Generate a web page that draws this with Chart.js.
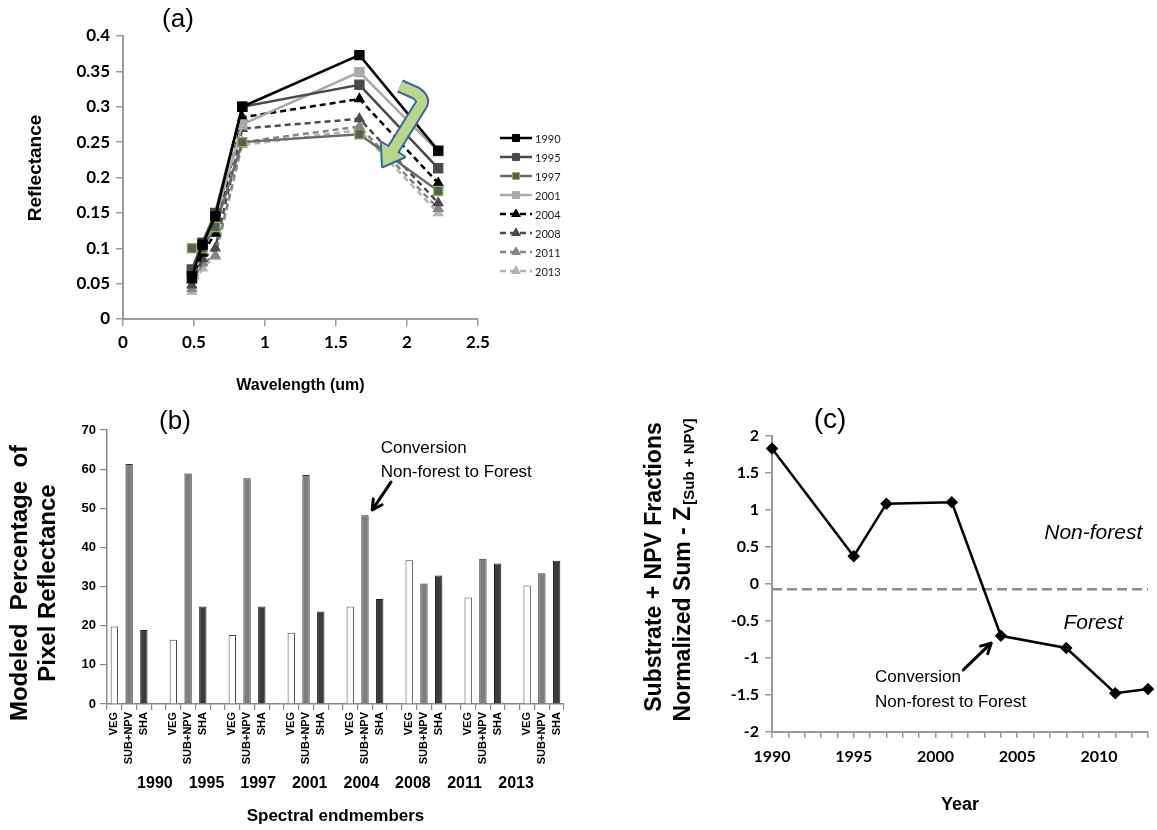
<!DOCTYPE html>
<html><head><meta charset="utf-8">
<script src="https://cdn.jsdelivr.net/npm/chart.js@4.4.1/dist/chart.umd.min.js"></script>
<style>
html,body{margin:0;padding:0;background:#fff;}
body{width:1157px;height:830px;position:relative;overflow:hidden;}
canvas{position:absolute;}
</style></head><body>
<canvas id="ca" width="600" height="400" style="left:0;top:0"></canvas>
<canvas id="cb" width="600" height="430" style="left:0;top:400px"></canvas>
<canvas id="cc" width="557" height="430" style="left:600px;top:400px"></canvas>
<script>
// ---------- DATA ----------
// Panel (a): endmember reflectance spectra
const wavelengths = [0.485, 0.56, 0.65, 0.84, 1.665, 2.22];
const spectraYears = ['1990','1995','1997','2001','2004','2008','2011','2013'];
const refl1990 = [0.060, 0.105, 0.145, 0.300, 0.373, 0.238];
const refl1995 = [0.070, 0.108, 0.150, 0.300, 0.331, 0.213];
const refl1997 = [0.100, 0.100, 0.130, 0.250, 0.261, 0.181];
const refl2001 = [0.065, 0.105, 0.140, 0.275, 0.349, 0.237];
const refl2004 = [0.055, 0.093, 0.121, 0.285, 0.311, 0.192];
const refl2008 = [0.048, 0.085, 0.100, 0.269, 0.283, 0.164];
const refl2011 = [0.043, 0.079, 0.090, 0.250, 0.272, 0.156];
const refl2013 = [0.039, 0.072, 0.088, 0.246, 0.267, 0.150];
const reflTicksX = [0, 0.5, 1, 1.5, 2, 2.5];

// Panel (b): modeled fractions (%)
const fracYears = ['1990','1995','1997','2001','2004','2008','2011','2013'];
const endmembers = ['VEG','SUB+NPV','SHA'];
const vegPct = [19.8, 16.4, 17.6, 18.2, 24.9, 36.7, 27.2, 30.3];
const subNpvPct = [61.3, 58.9, 57.7, 58.5, 48.2, 30.8, 37.1, 33.4];
const shaPct = [18.9, 24.9, 24.9, 23.6, 26.8, 32.8, 35.9, 36.6];

// Panel (c): normalized sum Z[Sub+NPV]
const zYears = [1990, 1995, 1997, 2001, 2004, 2008, 2011, 2013];
const zValues = [1.83, 0.375, 1.085, 1.105, -0.70, -0.865, -1.475, -1.42];
const zThreshold = -0.07;

// ---------- helpers ----------
const ARIAL = '"Liberation Sans", Arial, sans-serif';
const CALI = 'Lato, "Liberation Sans", sans-serif';
const fmt = (v) => String(+Number(v).toFixed(2));
function txt(ctx, s, x, y, font, o) {
  o = o || {};
  ctx.save();
  ctx.font = font; ctx.fillStyle = o.color || '#000';
  ctx.textAlign = o.align || 'center'; ctx.textBaseline = o.baseline || 'middle';
  ctx.translate(x, y); if (o.rot) ctx.rotate(o.rot);
  ctx.fillText(s, 0, 0); ctx.restore();
}
function arrow(ctx, x1, y1, x2, y2, lw, head) {
  const a = Math.atan2(y2 - y1, x2 - x1);
  ctx.save(); ctx.strokeStyle = '#000'; ctx.lineWidth = lw; ctx.lineCap = 'round'; ctx.lineJoin = 'round';
  ctx.beginPath(); ctx.moveTo(x1, y1); ctx.lineTo(x2, y2); ctx.stroke();
  ctx.beginPath();
  ctx.moveTo(x2 - head * Math.cos(a - 0.5), y2 - head * Math.sin(a - 0.5));
  ctx.lineTo(x2, y2);
  ctx.lineTo(x2 - head * Math.cos(a + 0.5), y2 - head * Math.sin(a + 0.5));
  ctx.stroke(); ctx.restore();
}
const axisCommon = (tickLen) => ({
  grid: { drawOnChartArea: false, drawTicks: true, tickLength: tickLen, color: '#9a9a9a', lineWidth: 1.5 },
  border: { color: '#9a9a9a', width: 2 }
});

// ---------- PANEL A ----------
const reflSeries = [refl1990, refl1995, refl1997, refl2001, refl2004, refl2008, refl2011, refl2013];
const styleA = [
  { c: '#000000', dash: [], ps: 'rect', fill: '#000000', bc: '#000000' },
  { c: '#4a4a4a', dash: [], ps: 'rect', fill: '#4a4a4a', bc: '#4a4a4a' },
  { c: '#6a6a6a', dash: [], ps: 'rect', fill: '#5c5c5c', bc: '#86b84a' },
  { c: '#a9a9a9', dash: [], ps: 'rect', fill: '#a9a9a9', bc: '#a9a9a9' },
  { c: '#000000', dash: [6, 4], ps: 'triangle', fill: '#000000', bc: '#000000' },
  { c: '#4a4a4a', dash: [6, 4], ps: 'triangle', fill: '#4a4a4a', bc: '#4a4a4a' },
  { c: '#858585', dash: [6, 4], ps: 'triangle', fill: '#858585', bc: '#858585' },
  { c: '#b3b3b3', dash: [6, 4], ps: 'triangle', fill: '#b3b3b3', bc: '#b3b3b3' }
];
const dsA = spectraYears.map((yr, i) => ({
  label: yr,
  data: wavelengths.map((w, j) => ({ x: w, y: reflSeries[i][j] })),
  borderColor: styleA[i].c, borderWidth: 2.5, borderDash: styleA[i].dash,
  pointStyle: styleA[i].ps, pointRadius: styleA[i].ps === 'rect' ? 6.5 : 5.5,
  pointBackgroundColor: styleA[i].fill, pointBorderColor: styleA[i].bc, pointBorderWidth: 1.2,
  tension: 0, fill: false
}));

const pluginA = {
  id: 'pa',
  afterDraw(chart) {
    const ctx = chart.ctx;
    const xs = chart.scales.x, ys = chart.scales.y;
    txt(ctx, '(a)', 178, 20, '26px ' + ARIAL);
    txt(ctx, 'Reflectance', 36, 168, 'bold 19px ' + ARIAL, { rot: -Math.PI / 2 });
    // legend
    chart.data.datasets.forEach((ds, i) => {
      const y = 138 + i * 19;
      ctx.save();
      ctx.strokeStyle = ds.borderColor; ctx.lineWidth = 2.5; ctx.setLineDash(ds.borderDash);
      ctx.beginPath(); ctx.moveTo(500, y); ctx.lineTo(532, y); ctx.stroke();
      ctx.setLineDash([]);
      ctx.fillStyle = ds.pointBackgroundColor; ctx.strokeStyle = ds.pointBorderColor; ctx.lineWidth = 1;
      Chart.helpers.drawPoint(ctx, { pointStyle: ds.pointStyle, radius: 5, rotation: 0, borderWidth: 1 }, 516, y);
      ctx.restore();
      txt(ctx, ds.label, 535, y + 1, '11px ' + CALI, { align: 'left', color: '#222' });
    });
    // green hook arrow (anchored in data space)
    const P = (x, y) => [xs.getPixelForValue(x), ys.getPixelForValue(y)];
    const p0 = P(1.951, 0.3293), p1 = P(2.063, 0.3194), pc = P(2.100, 0.3030), p3 = P(1.901, 0.2389);
    const dx = p3[0] - pc[0], dy = p3[1] - pc[1], L = Math.hypot(dx, dy);
    const ux = dx / L, uy = dy / L, nx = -uy, ny = ux;
    const tip = [p3[0] + 19 * ux, p3[1] + 19 * uy];
    const hw = 13;
    const headPath = () => {
      ctx.beginPath(); ctx.moveTo(tip[0], tip[1]);
      ctx.lineTo(p3[0] + hw * nx, p3[1] + hw * ny);
      ctx.lineTo(p3[0] - hw * nx, p3[1] - hw * ny); ctx.closePath();
    };
    const shaftPath = () => {
      ctx.beginPath(); ctx.moveTo(p0[0], p0[1]); ctx.lineTo(p1[0], p1[1]);
      ctx.quadraticCurveTo(pc[0] + 3, pc[1] - 6, pc[0], pc[1]);
      ctx.lineTo(p3[0] + 1 * ux, p3[1] + 1 * uy);
    };
    ctx.save(); ctx.lineJoin = 'round';
    ctx.strokeStyle = '#3d64a0'; ctx.fillStyle = '#3d64a0'; ctx.lineWidth = 4;
    headPath(); ctx.fill(); ctx.stroke();
    ctx.lineWidth = 14; ctx.lineCap = 'butt'; shaftPath(); ctx.stroke();
    ctx.strokeStyle = '#b8d78b'; ctx.fillStyle = '#b8d78b'; ctx.lineWidth = 10; shaftPath(); ctx.stroke();
    headPath(); ctx.fill();
    ctx.restore();
  }
};

new Chart(document.getElementById('ca'), {
  type: 'line',
  data: { datasets: dsA },
  options: {
    responsive: false, animation: false, devicePixelRatio: 1,
    layout: { padding: { left: 0, right: 122, top: 36, bottom: 0 } },
    plugins: { legend: { display: false }, tooltip: { enabled: false } },
    scales: {
      x: Object.assign({
        type: 'linear', min: 0, max: 2.5,
        afterBuildTicks: (s) => { s.ticks = reflTicksX.map(v => ({ value: v })); },
        ticks: { callback: fmt, font: { family: CALI, size: 17, weight: 'bold' }, color: '#000', padding: 6 },
        title: { display: true, text: 'Wavelength (um)', font: { family: ARIAL, size: 16, weight: 'bold' }, color: '#000', padding: { top: 0, bottom: 5 } },
        afterFit: (s) => { s.height = 81; }
      }, axisCommon(7)),
      y: Object.assign({
        min: 0, max: 0.4,
        ticks: { stepSize: 0.05, callback: fmt, font: { family: CALI, size: 17, weight: 'bold' }, color: '#000', padding: 6 },
        afterFit: (s) => { s.width = 123; }
      }, axisCommon(7))
    }
  },
  plugins: [pluginA]
});

// ---------- PANEL B ----------
const nSlots = fracYears.length * 4 - 1;
const slotLabels = [];
for (let i = 0; i < nSlots; i++) slotLabels.push(i % 4 === 3 ? '' : endmembers[i % 4]);
const slotData = (arr, k) => { const d = new Array(nSlots).fill(null); arr.forEach((v, i) => { d[i * 4 + k] = v; }); return d; };
const barCommon = { grouped: false, barPercentage: 0.5, categoryPercentage: 1.0, borderWidth: 1, borderSkipped: 'bottom' };

const pluginB = {
  id: 'pb',
  afterDraw(chart) {
    const ctx = chart.ctx;
    const xs = chart.scales.x2, ys = chart.scales.y;
    txt(ctx, '(b)', 175, 22, '26px ' + ARIAL);
    txt(ctx, 'Modeled  Percentage  of', 20, 183, 'bold 24px ' + ARIAL, { rot: -Math.PI / 2 });
    txt(ctx, 'Pixel Reflectance', 48, 183, 'bold 24px ' + ARIAL, { rot: -Math.PI / 2 });
    const fx = (v) => xs.getPixelForValue(v), fy = (v) => ys.getPixelForValue(v);
    txt(ctx, 'Conversion', fx(18.5), fy(65.4), '17px ' + ARIAL, { align: 'left' });
    txt(ctx, 'Non-forest to Forest', fx(18.5), fy(59.3), '17px ' + ARIAL, { align: 'left' });
    arrow(ctx, fx(19.3), fy(56.7), fx(17.85), fy(49.6), 3, 11);
  }
};

new Chart(document.getElementById('cb'), {
  type: 'bar',
  data: {
    labels: slotLabels,
    datasets: [
      Object.assign({ label: 'VEG', data: slotData(vegPct, 0), backgroundColor: '#ffffff', borderColor: '#444' }, barCommon),
      Object.assign({ label: 'SUB+NPV', data: slotData(subNpvPct, 1), backgroundColor: '#7d7d7d', borderColor: '#333' }, barCommon),
      Object.assign({ label: 'SHA', data: slotData(shaPct, 2), backgroundColor: '#3c3c3c', borderColor: '#222' }, barCommon)
    ]
  },
  options: {
    responsive: false, animation: false, devicePixelRatio: 1,
    layout: { padding: { left: 0, right: 36, top: 30, bottom: 0 } },
    plugins: { legend: { display: false }, tooltip: { enabled: false } },
    scales: {
      x: {
        type: 'category', offset: true, weight: 0,
        grid: { drawOnChartArea: false, drawTicks: true, tickLength: 6, color: '#8a8a8a', lineWidth: 1.2, offset: true },
        border: { color: '#8a8a8a', width: 1.5 },
        ticks: { autoSkip: false, minRotation: 90, maxRotation: 90, font: { family: ARIAL, size: 11, weight: 'bold' }, color: '#000', padding: 2 },
        afterFit: (s) => { s.height = 66; }
      },
      x2: {
        type: 'linear', position: 'bottom', weight: 1, min: -0.5, max: nSlots - 0.5,
        grid: { display: false, drawTicks: false }, border: { display: false },
        afterBuildTicks: (s) => { s.ticks = fracYears.map((y, i) => ({ value: 4 * i + 1 })); },
        ticks: { callback: (v) => fracYears[Math.round((v - 1) / 4)], font: { family: ARIAL, size: 16, weight: 'bold' }, color: '#000', padding: 4, maxRotation: 0 },
        title: { display: true, text: 'Spectral endmembers', font: { family: ARIAL, size: 17, weight: 'bold' }, color: '#000', padding: { top: 0, bottom: 3 } },
        afterFit: (s) => { s.height = 60; }
      },
      y: {
        min: 0, max: 70,
        grid: { drawOnChartArea: false, drawTicks: true, tickLength: 7, color: '#8a8a8a', lineWidth: 1.2 },
        border: { color: '#8a8a8a', width: 1.5 },
        ticks: { stepSize: 10, font: { family: ARIAL, size: 13, weight: 'bold' }, color: '#000', padding: 4 },
        afterFit: (s) => { s.width = 107; }
      }
    }
  },
  plugins: [pluginB]
});

// ---------- PANEL C ----------
const pluginC = {
  id: 'pc',
  afterDraw(chart) {
    const ctx = chart.ctx;
    const xs = chart.scales.x, ys = chart.scales.y;
    txt(ctx, '(c)', 230, 20, '28px ' + ARIAL);
    txt(ctx, 'Substrate + NPV Fractions', 55, 167, 'bold 23px ' + ARIAL, { rot: -Math.PI / 2 });
    // second line with subscript
    ctx.save();
    ctx.translate(84, 170); ctx.rotate(-Math.PI / 2);
    ctx.fillStyle = '#000'; ctx.textBaseline = 'middle'; ctx.textAlign = 'left';
    const mainT = 'Normalized Sum - Z', subT = '[Sub + NPV]';
    ctx.font = 'bold 23px ' + ARIAL; const w1 = ctx.measureText(mainT).width;
    ctx.font = 'bold 15px ' + ARIAL; const w2 = ctx.measureText(subT).width;
    const x0 = -(w1 + w2 + 2) / 2;
    ctx.font = 'bold 23px ' + ARIAL; ctx.fillText(mainT, x0, 0);
    ctx.font = 'bold 15px ' + ARIAL; ctx.fillText(subT, x0 + w1 + 2, 6);
    ctx.restore();
    const fx = (v) => xs.getPixelForValue(v), fy = (v) => ys.getPixelForValue(v);
    txt(ctx, 'Non-forest', fx(2009.65), fy(0.69), 'italic 21px ' + ARIAL);
    txt(ctx, 'Forest', fx(2009.65), fy(-0.53), 'italic 21px ' + ARIAL);
    txt(ctx, 'Conversion', fx(1996.3), fy(-1.26), '17px ' + ARIAL, { align: 'left' });
    txt(ctx, 'Non-forest to Forest', fx(1996.3), fy(-1.60), '17px ' + ARIAL, { align: 'left' });
    arrow(ctx, fx(2001.7), fy(-1.16), fx(2003.4), fy(-0.80), 3, 11);
  }
};

new Chart(document.getElementById('cc'), {
  type: 'line',
  data: {
    datasets: [
      {
        label: 'Z', data: zYears.map((y, i) => ({ x: y, y: zValues[i] })),
        borderColor: '#000', borderWidth: 2.5, pointStyle: 'rectRot', pointRadius: 4.5,
        pointBackgroundColor: '#000', pointBorderColor: '#000', tension: 0, clip: 6
      },
      {
        label: 'threshold', data: [{ x: zYears[0], y: zThreshold }, { x: zYears[zYears.length - 1], y: zThreshold }],
        borderColor: '#8c8c8c', borderWidth: 2.5, borderDash: [10, 5], pointRadius: 0, tension: 0
      }
    ]
  },
  options: {
    responsive: false, animation: false, devicePixelRatio: 1,
    layout: { padding: { left: 0, right: 2, top: 36, bottom: 0 } },
    plugins: { legend: { display: false }, tooltip: { enabled: false } },
    scales: {
      x: Object.assign({
        type: 'linear', min: 1990, max: 2013,
        ticks: { stepSize: 1, autoSkip: false, maxRotation: 0, callback: (v) => (v % 5 === 0 ? String(v) : ''), font: { family: CALI, size: 16, weight: 'bold' }, color: '#000', padding: 9 },
        title: { display: true, text: 'Year', font: { family: ARIAL, size: 18, weight: 'bold' }, color: '#000', padding: { top: 0, bottom: 14 } },
        afterFit: (s) => { s.height = 98; }
      }, axisCommon(6)),
      y: Object.assign({
        min: -2, max: 2,
        ticks: { stepSize: 0.5, callback: fmt, font: { family: CALI, size: 16, weight: 'bold' }, color: '#000', padding: 6 },
        afterFit: (s) => { s.width = 172; }
      }, axisCommon(7))
    }
  },
  plugins: [pluginC]
});
</script>
</body></html>
